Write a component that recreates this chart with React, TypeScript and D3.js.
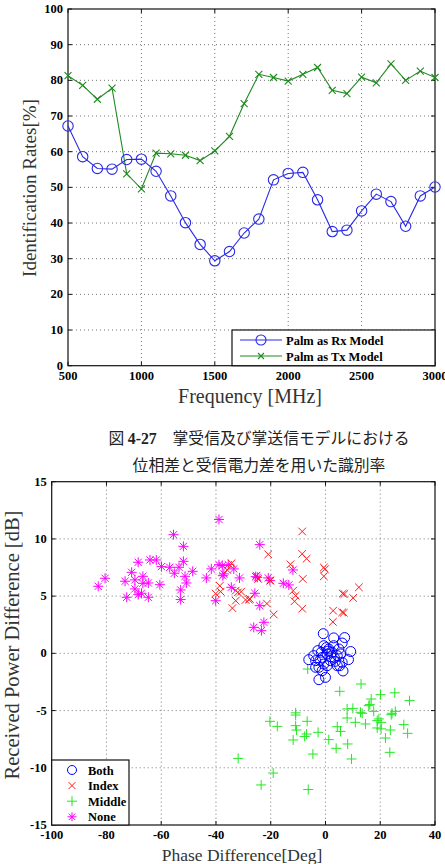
import React, { useEffect, useRef } from "react";
import * as d3 from "d3";

// ---------------- top chart data
const freqs = [500, 600, 700, 800, 900, 1000, 1100, 1200, 1300, 1400, 1500, 1600, 1700, 1800, 1900, 2000, 2100, 2200, 2300, 2400, 2500, 2600, 2700, 2800, 2900, 3000];
const rxRates = [67.2, 58.6, 55.3, 55.1, 57.8, 57.9, 54.5, 47.6, 40.1, 34.0, 29.4, 32.0, 37.2, 41.1, 52.1, 53.9, 54.2, 46.5, 37.6, 38.0, 43.4, 48.1, 46.0, 39.1, 47.6, 50.1];
const txRates = [81.3, 78.6, 74.7, 77.8, 53.8, 49.6, 59.6, 59.4, 59.0, 57.5, 60.2, 64.3, 73.5, 81.7, 80.8, 79.8, 81.7, 83.6, 77.2, 76.3, 80.9, 79.3, 84.6, 80.0, 82.6, 80.8];
const freqTicks = [500, 1000, 1500, 2000, 2500, 3000];
const rateTicks = [0, 10, 20, 30, 40, 50, 60, 70, 80, 90, 100];
const topSeries = ["Palm as Rx Model", "Palm as Tx Model"];

// ---------------- bottom chart data  [phase diff (deg), power diff (dB)]
const phaseTicks = [-100, -80, -60, -40, -20, 0, 20, 40];
const powerTicks = [-15, -10, -5, 0, 5, 10, 15];
const classes = ["Both", "Index", "Middle", "None"];

const bothPts = [
  [-0.8, 1.72], [3.0, 1.35], [7.0, 1.38], [6.1, 0.9], [-0.6, 0.67], [9.2, 0.16], [-2.8, 0.24], [-3.6, -0.64],
  [-6.1, -0.55], [8.4, -0.55], [0.6, -0.06], [2.4, 0.09], [4.3, -0.2], [-1.2, -0.35], [1.8, -0.64], [6.1, -0.79],
  [-2.4, -1.22], [-1.2, -1.51], [6.4, -1.54], [0.0, -2.1], [-2.4, -2.3], [4.3, -1.08], [1.2, 0.38], [-4.3, -0.2],
  [3.0, 0.67], [4.9, 0.38], [-0.6, -0.93], [3.6, -0.7], [0.6, -1.08], [5.5, -0.05], [-3.6, -1.22], [5.2, -1.08],
  [1.0, 0.2], [-1.5, 0.1], [2.0, -0.3], [0.3, 0.5], [-2.0, -0.6], [3.3, -0.4],
];
const indexPts = [
  [-8.5, 10.65], [-20.9, 8.65], [-8.5, 8.69], [-6.9, 8.27], [-12.8, 7.78], [-0.6, 7.5], [-0.2, 7.35], [-0.6, 6.73],
  [-8.3, 6.5], [-34.3, 7.87], [-35.9, 7.29], [-25.2, 6.79], [-24.6, 6.5], [-20.1, 6.36], [-38.6, 5.9], [-40.1, 5.22],
  [-38.3, 5.39], [-32.8, 5.48], [-30.8, 5.39], [-29.2, 4.67], [-28.0, 4.7], [-32.8, 4.6], [-34.0, 3.95], [-21.4, 4.35],
  [-18.9, 3.4], [-11.8, 5.48], [-10.9, 5.04], [-11.3, 4.55], [-8.5, 3.9], [2.8, 3.73], [6.1, 3.58], [6.7, 3.55],
  [6.3, 5.22], [6.9, 5.19], [10.1, 4.84], [12.2, 5.77], [2.7, 2.75], [-32.0, 5.33], [-27.6, 4.75],
];
const middlePts = [
  [13.0, -2.68], [5.2, -3.32], [20.1, -3.61], [25.3, -3.45], [30.7, -4.13], [16.7, -3.99], [16.2, -4.48], [7.9, -4.86],
  [10.0, -4.81], [13.4, -5.24], [17.6, -5.07], [24.3, -5.24], [25.5, -5.07], [19.5, -5.73], [20.3, -6.03], [7.9, -5.65],
  [10.9, -6.03], [14.6, -6.17], [4.3, -6.41], [5.5, -6.82], [18.9, -6.52], [20.3, -6.6], [23.7, -6.7], [28.6, -6.23],
  [30.0, -6.99], [21.9, -7.4], [-2.7, -6.9], [-6.7, -5.94], [-10.9, -5.39], [-10.9, -6.32], [-10.6, -6.7], [-6.9, -7.05],
  [-7.6, -7.26], [-11.8, -7.57], [-20.3, -5.94], [-17.6, -6.38], [1.2, -7.54], [8.1, -7.92], [3.9, -8.3], [-4.6, -8.8],
  [9.5, -9.23], [23.5, -8.65], [-31.9, -9.18], [-19.1, -10.46], [-23.5, -11.5], [-6.3, -11.9], [-6.5, -1.37], [12.8, -5.15],
  [18.9, -5.88], [24.0, -5.36], [15.8, -4.57], [-10.9, -5.2],
];
const nonePts = [
  [-83, 5.86], [-80.5, 6.56], [-73.2, 6.3], [-72.6, 4.9], [-70.8, 7.08], [-69.6, 5.63], [-69.6, 6.42], [-68.4, 7.96],
  [-68.4, 5.13], [-66.7, 6.73], [-66.7, 6.12], [-67.2, 5.25], [-64.7, 6.15], [-64.7, 4.9], [-64.1, 8.16], [-61.8, 8.16],
  [-60.5, 6.0], [-59.9, 7.58], [-56.9, 7.52], [-55.5, 10.37], [-55.2, 7.0], [-53.5, 7.52], [-52.9, 5.54], [-52.9, 4.7],
  [-51.9, 9.35], [-51.9, 8.04], [-51.3, 6.73], [-50.8, 6.15], [-48.5, 7.17], [-43.5, 6.59], [-41.7, 7.38], [-40.1, 4.6],
  [-38.9, 11.7], [-38.9, 7.75], [-37.5, 6.79], [-35.5, 7.75], [-33.5, 7.38], [-34.4, 5.77], [-31.4, 6.59], [-25.5, 6.7],
  [-25.8, 5.25], [-24.9, 6.64], [-24.0, 9.5], [-24.0, 4.17], [-26.2, 2.27], [-23.4, 1.98], [-22.5, 2.71], [-20.9, 6.59],
  [-20.3, 6.36], [-15.4, 6.12], [-13.4, 5.98], [-11.9, 7.29], [-37.7, 7.67], [-37.1, 6.94],
];

const SERIF = "'Liberation Serif', 'Times New Roman', serif";

// draws grid, box, ticks and tick labels for one axes
const drawFrame = (g, x, y, xTicks, yTicks) => {
  const [x0, x1] = x.range();
  const [y0, y1] = y.range(); // y0 bottom, y1 top
  g.append("g")
    .selectAll("line")
    .data(xTicks.filter(t => t !== xTicks[0] && t !== xTicks[xTicks.length - 1]))
    .join("line")
    .attr("x1", d => x(d)).attr("x2", d => x(d))
    .attr("y1", y1).attr("y2", y0)
    .attr("stroke", "#777").attr("stroke-dasharray", "1,3");
  g.append("g")
    .selectAll("line")
    .data(yTicks.filter(t => t !== yTicks[0] && t !== yTicks[yTicks.length - 1]))
    .join("line")
    .attr("x1", x0).attr("x2", x1)
    .attr("y1", d => y(d)).attr("y2", d => y(d))
    .attr("stroke", "#777").attr("stroke-dasharray", "1,3");
  g.append("rect")
    .attr("x", x0).attr("y", y1)
    .attr("width", x1 - x0).attr("height", y0 - y1)
    .attr("fill", "none").attr("stroke", "#111").attr("stroke-width", 1.2);
  // ticks inside
  xTicks.forEach(t => {
    g.append("line").attr("x1", x(t)).attr("x2", x(t)).attr("y1", y0).attr("y2", y0 - 4).attr("stroke", "#111");
    g.append("line").attr("x1", x(t)).attr("x2", x(t)).attr("y1", y1).attr("y2", y1 + 4).attr("stroke", "#111");
  });
  yTicks.forEach(t => {
    g.append("line").attr("x1", x0).attr("x2", x0 + 4).attr("y1", y(t)).attr("y2", y(t)).attr("stroke", "#111");
    g.append("line").attr("x1", x1).attr("x2", x1 - 4).attr("y1", y(t)).attr("y2", y(t)).attr("stroke", "#111");
  });
  g.append("g")
    .selectAll("text")
    .data(xTicks)
    .join("text")
    .attr("x", d => x(d))
    .attr("y", y0 + 14)
    .attr("text-anchor", "middle")
    .attr("font-family", SERIF).attr("font-weight", "bold").attr("font-size", 12.5)
    .text(d => d);
  g.append("g")
    .selectAll("text")
    .data(yTicks)
    .join("text")
    .attr("x", x0 - 5)
    .attr("y", d => y(d) + 4)
    .attr("text-anchor", "end")
    .attr("font-family", SERIF).attr("font-weight", "bold").attr("font-size", 12.5)
    .text(d => d);
};

const xPath = s => `M${-s},${-s}L${s},${s}M${-s},${s}L${s},${-s}`;
const plusPath = s => `M${-s},0L${s},0M0,${-s}L0,${s}`;
const starPath = s => `${plusPath(s)}${xPath(s * 0.72)}`;

const App = () => {
  const svgRef = useRef();

  useEffect(() => {
    const svg = d3.select(svgRef.current);
    svg.selectAll("*").remove();

    // ---------------------- top chart
    const top = {
      x: d3.scaleLinear().domain([500, 3000]).range([68, 435]),
      y: d3.scaleLinear().domain([0, 100]).range([365.7, 9]),
    };
    const gt = svg.append("g");
    drawFrame(gt, top.x, top.y, freqTicks, rateTicks);

    const line = d3.line().x(d => top.x(d[0])).y(d => top.y(d[1]));
    const rx = freqs.map((f, i) => [f, rxRates[i]]);
    const tx = freqs.map((f, i) => [f, txRates[i]]);
    const rxColor = "#2a2ae8";
    const txColor = "#1f8a1f";

    gt.append("path").datum(tx).attr("d", line).attr("fill", "none").attr("stroke", txColor).attr("stroke-width", 1.1);
    gt.append("g").selectAll("path").data(tx).join("path")
      .attr("transform", d => `translate(${top.x(d[0])},${top.y(d[1])})`)
      .attr("d", xPath(3.5)).attr("stroke", txColor).attr("stroke-width", 1.1);

    gt.append("path").datum(rx).attr("d", line).attr("fill", "none").attr("stroke", rxColor).attr("stroke-width", 1.1);
    gt.append("g").selectAll("circle").data(rx).join("circle")
      .attr("cx", d => top.x(d[0])).attr("cy", d => top.y(d[1])).attr("r", 5.2)
      .attr("fill", "none").attr("stroke", rxColor).attr("stroke-width", 1.1);

    // legend
    const lg = gt.append("g");
    lg.append("rect").attr("x", 232).attr("y", 330).attr("width", 203).attr("height", 35.7)
      .attr("fill", "white").attr("stroke", "#111").attr("stroke-width", 1.2);
    topSeries.forEach((name, i) => {
      const yy = 340 + i * 16;
      const c = i === 0 ? rxColor : txColor;
      lg.append("line").attr("x1", 240).attr("x2", 282).attr("y1", yy).attr("y2", yy).attr("stroke", c).attr("stroke-width", 1.1);
      if (i === 0) {
        lg.append("circle").attr("cx", 261).attr("cy", yy).attr("r", 5).attr("fill", "none").attr("stroke", c).attr("stroke-width", 1.1);
      } else {
        lg.append("path").attr("transform", `translate(261,${yy})`).attr("d", xPath(3)).attr("stroke", c).attr("stroke-width", 1.1);
      }
      lg.append("text").attr("x", 286).attr("y", yy + 4.5)
        .attr("font-family", SERIF).attr("font-weight", "bold").attr("font-size", 12.5).text(name);
    });

    gt.append("text")
      .attr("transform", `translate(36,188) rotate(-90)`)
      .attr("text-anchor", "middle")
      .attr("font-family", SERIF).attr("font-size", 19).attr("fill", "#333")
      .text("Identification Rates[%]");
    gt.append("text")
      .attr("x", 250).attr("y", 403)
      .attr("text-anchor", "middle")
      .attr("font-family", SERIF).attr("font-size", 20).attr("fill", "#333")
      .text("Frequency [MHz]");

    // ---------------------- caption
    const cap = svg.append("text").attr("x", 259).attr("y", 444).attr("text-anchor", "middle")
      .attr("font-family", "'Noto Sans CJK JP', sans-serif").attr("font-size", 15.8).attr("fill", "#222");
    cap.append("tspan").text("図 ");
    cap.append("tspan").attr("font-family", SERIF).attr("font-weight", "bold").text("4-27");
    cap.append("tspan").text("　掌受信及び掌送信モデルにおける");
    svg.append("text").attr("x", 259).attr("y", 471).attr("text-anchor", "middle")
      .attr("font-family", "'Noto Sans CJK JP', sans-serif").attr("font-size", 15.8).attr("fill", "#222")
      .text("位相差と受信電力差を用いた識別率");

    // ---------------------- bottom chart
    const bot = {
      x: d3.scaleLinear().domain([-100, 40]).range([51.7, 435]),
      y: d3.scaleLinear().domain([-15, 15]).range([825, 481.7]),
    };
    const gb = svg.append("g");
    drawFrame(gb, bot.x, bot.y, phaseTicks, powerTicks);

    const pos = d => `translate(${bot.x(d[0])},${bot.y(d[1])})`;
    const colors = { Both: "#0000ff", Index: "#ff1a1a", Middle: "#22e822", None: "#ff00ff" };

    gb.append("g").selectAll("path").data(nonePts).join("path")
      .attr("transform", pos).attr("d", starPath(5)).attr("stroke", colors.None).attr("stroke-width", 1);
    gb.append("g").selectAll("path").data(indexPts).join("path")
      .attr("transform", pos).attr("d", xPath(3.8)).attr("stroke", colors.Index).attr("stroke-width", 1);
    gb.append("g").selectAll("path").data(middlePts).join("path")
      .attr("transform", pos).attr("d", plusPath(5)).attr("stroke", colors.Middle).attr("stroke-width", 1);
    gb.append("g").selectAll("circle").data(bothPts).join("circle")
      .attr("cx", d => bot.x(d[0])).attr("cy", d => bot.y(d[1])).attr("r", 5)
      .attr("fill", "none").attr("stroke", colors.Both).attr("stroke-width", 1);

    // legend
    const lb = gb.append("g");
    lb.append("rect").attr("x", 51.7).attr("y", 760).attr("width", 77.3).attr("height", 65)
      .attr("fill", "white").attr("stroke", "#111").attr("stroke-width", 1.2);
    classes.forEach((name, i) => {
      const yy = 770 + i * 15.6;
      const c = colors[name];
      const m = lb.append("g").attr("transform", `translate(72,${yy})`);
      if (name === "Both") m.append("circle").attr("r", 4.5).attr("fill", "none").attr("stroke", c);
      if (name === "Index") m.append("path").attr("d", xPath(3.5)).attr("stroke", c);
      if (name === "Middle") m.append("path").attr("d", plusPath(5)).attr("stroke", c);
      if (name === "None") m.append("path").attr("d", starPath(4.5)).attr("stroke", c);
      lb.append("text").attr("x", 88).attr("y", yy + 4.5)
        .attr("font-family", SERIF).attr("font-weight", "bold").attr("font-size", 12.5).text(name);
    });

    gb.append("text")
      .attr("transform", `translate(19,645) rotate(-90)`)
      .attr("text-anchor", "middle")
      .attr("font-family", SERIF).attr("font-size", 20.5).attr("fill", "#333")
      .text("Received Power Difference [dB]");
    gb.append("text")
      .attr("x", 242).attr("y", 861)
      .attr("text-anchor", "middle")
      .attr("font-family", SERIF).attr("font-size", 17.5).attr("fill", "#333")
      .text("Phase Difference[Deg]");
  }, []);

  return (
    <div style={{ position: "absolute", left: 0, top: 0, width: 445, height: 864, background: "white" }}>
      <svg ref={svgRef} width={445} height={864} />
    </div>
  );
};

export default App;
